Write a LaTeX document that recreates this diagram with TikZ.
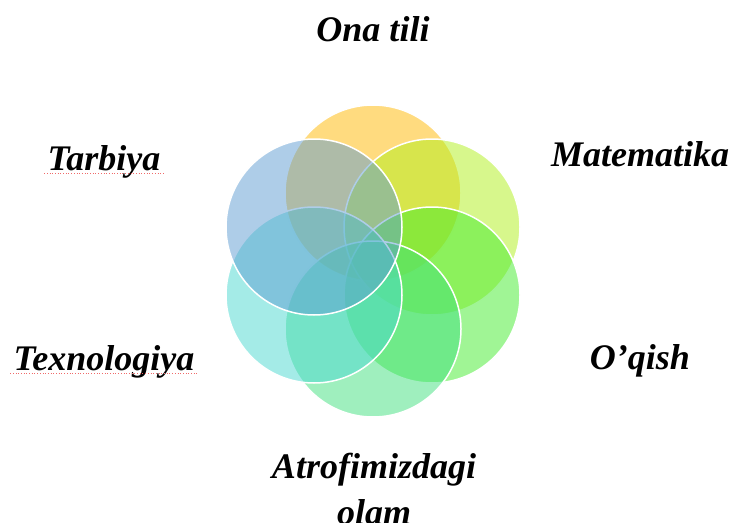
\documentclass[tikz,border=0pt]{standalone}
\usepackage{fontspec}
\setmainfont{Liberation Serif}
\usepackage{xcolor}

\definecolor{onaclr}{HTML}{FFB800}
\definecolor{matclr}{HTML}{B0F01A}
\definecolor{oqclr}{HTML}{42EB2C}
\definecolor{atrclr}{HTML}{40E07E}
\definecolor{texclr}{HTML}{4AD8D0}
\definecolor{tarclr}{HTML}{5E9CD2}
\definecolor{spellclr}{HTML}{F06A6A}

\begin{document}
\begin{tikzpicture}[
        x=1pt, y=-1pt,
        petal/.style={
            circle,
            draw=white,
            line width=1.5pt,
            fill opacity=0.5,
            draw opacity=1,
            minimum size=176pt,
            inner sep=0pt
        },
        subject/.style={
            anchor=base,
            align=center,
            font=\fontsize{36}{46}\selectfont\bfseries\itshape
        },
        squiggle/.style={
            spellclr,
            line width=0.7pt,
            dotted
        }
    ]

        \useasboundingbox (0,0) rectangle (733,522);

        % circles, drawn in clockwise order from the top
        \node[petal, fill=onaclr] (ona) at (373,193) {};
        \node[petal, fill=matclr] (mat) at (432,227) {};
        \node[petal, fill=oqclr] (oqish) at (432,295) {};
        \node[petal, fill=atrclr] (atrof) at (373,329) {};
        \node[petal, fill=texclr] (texno) at (314,295) {};
        \node[petal, fill=tarclr] (tarb) at (314,227) {};

        % subject names
        \node[subject] (onalbl) at (373,41) {Ona tili};
        \node[subject] (matlbl) at (640,166) {Matematika};
        \node[subject] (oqlbl) at (640,369) {O’qish};
        \node[subject, anchor=north] (atrlbl) at (374,450) {Atrofimizdagi\\olam};
        \node[subject] (texlbl) at (104,370) {Texnologiya};
        \node[subject] (tarlbl) at (104,170) {Tarbiya};

        \draw[squiggle] ([yshift=-3pt]tarlbl.base west) -- ([yshift=-3pt]tarlbl.base east);
        \draw[squiggle] ([yshift=-3pt]texlbl.base west) -- ([yshift=-3pt]texlbl.base east);

    \end{tikzpicture}
\end{document}
